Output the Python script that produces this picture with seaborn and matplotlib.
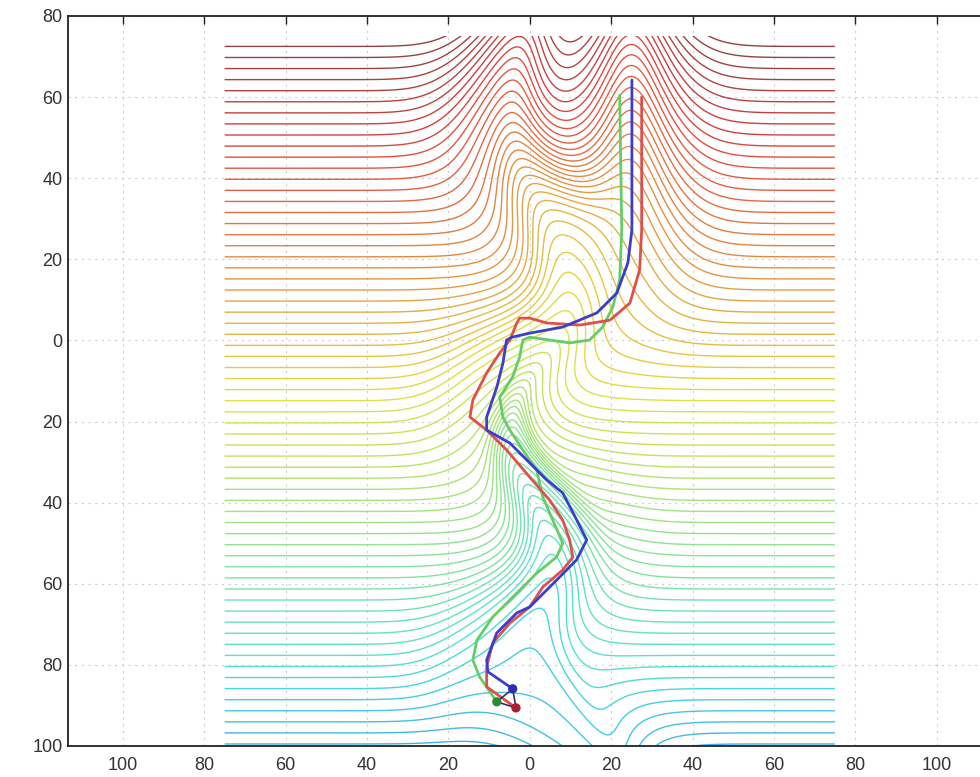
import numpy as np
import matplotlib
matplotlib.use("Agg")
import matplotlib.pyplot as plt
import seaborn as sns
import pandas as pd
from matplotlib.collections import LineCollection
from matplotlib.patches import Rectangle

# ---------------- data ----------------
# horizontal grid lines (before deformation)
grid_top = 72.5
grid_bottom = -99.5
n_grid_lines = 64
grid_left, grid_right = -75.0, 75.0
grid_clip_top = 75.0

# trajectories (start at the dots at the bottom, end at the top)
blue_x = [-4.2, -10.3, -10.6, -8.1, -3.2, 0.0, 6.6, 11.5, 14.0, 11.5, 8.1, 4.2, 0.0, -4.9,
          -10.6, -10.6, -8.1, -6.6, -5.7, -4.4, 0.0, 8.1, 16.5, 21.4, 24.1, 25.1, 25.1, 25.1]
blue_y = [-85.9, -81.7, -78.8, -72.1, -67.2, -65.7, -59.1, -54.1, -49.2, -44.2, -37.6, -34.4,
          -30.2, -25.3, -22.1, -18.9, -11.5, -5.6, 0.1, 0.8, 1.8, 3.3, 6.8, 11.7, 19.1, 27.2,
          46.9, 64.2]
red_x = [-3.4, -10.6, -10.6, -9.1, -4.9, 0.0, 3.2, 8.1, 10.6, 9.8, 8.1, 4.9, 0.0, -5.7,
         -10.6, -14.7, -14.0, -10.6, -7.4, -4.9, -3.2, -2.5, 0.0, 4.2, 12.3, 19.7, 24.6,
         27.0, 27.5, 27.5]
red_y = [-90.6, -85.4, -80.5, -74.6, -69.7, -65.7, -60.8, -56.6, -53.4, -49.2, -44.3, -39.4,
         -33.7, -27.0, -22.1, -18.9, -14.7, -8.0, -3.1, 0.1, 4.3, 5.5, 5.5, 4.3, 3.8, 5.0,
         9.2, 17.4, 27.2, 60.0]
green_x = [-8.1, -12.3, -14.0, -13.0, -9.1, -4.9, 1.7, 6.6, 8.1, 3.2, 1.7, -1.7, -4.9, -6.6,
           -7.4, -4.2, -2.5, -1.7, 0.0, 4.9, 9.8, 14.7, 17.9, 20.4, 22.1, 22.6, 22.1]
green_y = [-89.1, -83.0, -78.8, -73.9, -68.2, -64.0, -57.4, -53.4, -50.0, -38.6, -32.0, -27.0,
           -22.1, -18.9, -14.0, -9.0, -4.1, 0.1, 0.8, 0.1, -0.6, 0.1, 3.3, 8.2, 14.9, 27.2,
           60.5]

drag_mid_x = [-10, 0, 10, 15]
drag_mid_y = [-16, -29, -42, -54]
drag_bottom_x = [-6, 8, 26]
drag_bottom_y = [-83, -95, -112]
drag_lower_x = [-8, -11, -8, 0, 8, 13, 9, 0, -8, -11, -8, -5]
drag_lower_y = [-88, -80, -72, -65, -57, -50, -40, -31, -24, -19, -10, 0]
drag_upper_x = [-5, 5, 16, 22, 25, 25, 25]
drag_upper_y = [0, 3, 7, 13, 25, 50, 92]
drag_top_x = [15, 3, -10, -7, 2]
drag_top_y = [15, 32, 50, 64, 92]

# axis ticks (labels show magnitudes only)
x_ticks = [-100, -80, -60, -40, -20, 0, 20, 40, 60, 80, 100]
x_tick_labels = ["100", "80", "60", "40", "20", "0", "20", "40", "60", "80", "100"]
y_ticks = [-100, -80, -60, -40, -20, 0, 20, 40, 60, 80]
y_tick_labels = ["100", "80", "60", "40", "20", "0", "20", "40", "60", "80"]

# ---------------- deformation of the grid ----------------
def push_along(P, px, py, sigma, gain, step=0.4):
    pts = np.column_stack([px, py]).astype(float)
    seg = np.hypot(*np.diff(pts, axis=0).T)
    s = np.concatenate([[0.0], np.cumsum(seg)])
    n = max(int(s[-1] / step), 2)
    ss = np.linspace(0, s[-1], n)
    q = np.column_stack([np.interp(ss, s, pts[:, 0]), np.interp(ss, s, pts[:, 1])])
    for k in range(n - 1):
        u = q[k + 1] - q[k]
        c = 0.5 * (q[k] + q[k + 1])
        d2 = ((P - c) ** 2).sum(1)
        w = gain * np.exp(-d2 / (2 * sigma ** 2))
        P += w[:, None] * u
    return P

levels = np.linspace(grid_top, grid_bottom, n_grid_lines)
n_pts = 2400
xs = np.linspace(grid_left, grid_right, n_pts)
X = np.tile(xs, n_grid_lines)
Y = np.repeat(levels, n_pts)
P = np.column_stack([X, Y])

P = push_along(P, drag_mid_x, drag_mid_y, sigma=8.0, gain=0.45)
P = push_along(P, drag_lower_x, drag_lower_y, sigma=9.0, gain=0.7)
P = push_along(P, drag_upper_x, drag_upper_y, sigma=10.0, gain=0.6)
P = push_along(P, drag_top_x, drag_top_y, sigma=9.0, gain=0.6)
P = push_along(P, drag_bottom_x, drag_bottom_y, sigma=9.0, gain=0.6)

P = P.reshape(n_grid_lines, n_pts, 2)

# ---------------- figure ----------------
sns.set_style("white")
plt.rcParams["font.family"] = ["Liberation Sans", "DejaVu Sans"]

fig = plt.figure(figsize=(9.8, 7.77), dpi=100)
ax = fig.add_axes([68 / 980, 31 / 777, 950 / 980, 730 / 777])
ax.set_xlim(-113.5, 120)
ax.set_ylim(-100, 80)

cmap = plt.get_cmap("jet")
frac = 0.30 + 0.70 * (levels - grid_bottom) / (grid_top - grid_bottom)
cols = np.array([cmap(f) for f in frac])
gray = np.array([0.5, 0.5, 0.5, 1.0])
cols = 0.75 * cols + 0.25 * gray
cols[:, 3] = 0.85

lc = LineCollection([P[i] for i in range(n_grid_lines)], colors=cols, linewidths=1.0,
                    zorder=2)
ax.add_collection(lc)
clip = Rectangle((-90, -100), 180, 100 + grid_clip_top, transform=ax.transData)
lc.set_clip_path(clip)

traj = pd.concat([
    pd.DataFrame({"x": green_x, "y": green_y, "path": "green", "order": range(len(green_x))}),
    pd.DataFrame({"x": red_x, "y": red_y, "path": "red", "order": range(len(red_x))}),
    pd.DataFrame({"x": blue_x, "y": blue_y, "path": "blue", "order": range(len(blue_x))}),
])
palette = {"blue": "#3c3cd2", "red": "#e0504a", "green": "#66cc66"}
sns.lineplot(data=traj, x="x", y="y", hue="path", units="path", estimator=None, sort=False,
             palette=palette, linewidth=2.0, legend=False, ax=ax, zorder=4)

starts = pd.DataFrame({"x": [blue_x[0], green_x[0], red_x[0]],
                       "y": [blue_y[0], green_y[0], red_y[0]],
                       "path": ["blue", "green", "red"]})
tri = pd.concat([starts, starts.iloc[[0]]])
ax.plot(tri["x"], tri["y"], color="#303070", linewidth=1.2, zorder=5)
sns.scatterplot(data=starts, x="x", y="y", hue="path",
                palette={"blue": "#2830b0", "green": "#2e8a2e", "red": "#b01c2c"},
                s=45, edgecolor="none", legend=False, ax=ax, zorder=6)

ax.set_xticks(x_ticks)
ax.set_xticklabels(x_tick_labels)
ax.set_yticks(y_ticks)
ax.set_yticklabels(y_tick_labels)
ax.set_xlabel("")
ax.set_ylabel("")
ax.grid(True, linestyle=(0, (2, 4)), color="#cfcfcf", linewidth=0.8)
ax.set_axisbelow(True)
ax.tick_params(axis="both", direction="in", length=6, width=1.0, labelsize=13,
               colors="#222222", labelcolor="#333333")
ax.tick_params(axis="x", top=True, pad=8)
ax.tick_params(axis="y", pad=4)
for side in ["left", "bottom", "top"]:
    ax.spines[side].set_visible(True)
    ax.spines[side].set_color("#222222")
    ax.spines[side].set_linewidth(1.3)
ax.spines["right"].set_visible(False)

fig.savefig("out.png", dpi=100)
